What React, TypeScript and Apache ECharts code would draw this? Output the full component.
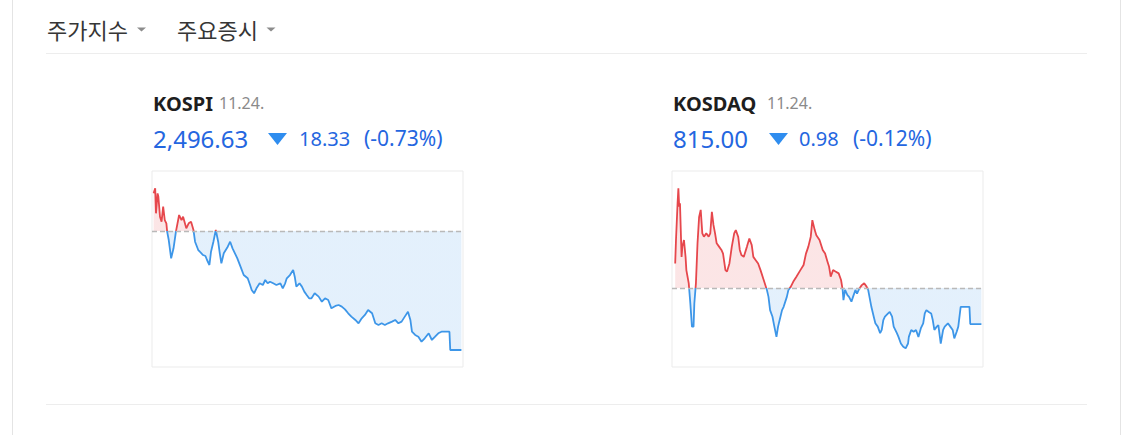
import React, { useEffect, useRef } from "react";
import * as echarts from "echarts";

// ---------- data ----------
const tabLabels = ["주가지수", "주요증시"];
const quoteDate = "11.24.";

const kospiName = "KOSPI";
const kospiPrevClose = 2514.96;
const kospiQuote = ["2,496.63", "18.33", "(-0.73%)"];
const kospiAxisRange = [2494.01, 2524.2];
// [minutes since 09:00, index]
const kospiTicks: [number, number][] = [
  [2, 2520.76], [4, 2521.53], [5, 2517.68], [7, 2520.76], [8, 2520.24], [10, 2517.16], [12, 2516.39], [14, 2518.7],
  [16, 2516.65], [18, 2516.14], [19, 2514.85], [21, 2513.57], [24, 2510.75], [27, 2512.29], [30, 2514.85], [34, 2517.42],
  [37, 2516.65], [39, 2517.16], [43, 2515.37], [46, 2516.14], [49, 2516.39], [52, 2515.11], [54, 2513.31], [58, 2512.03],
  [60, 2511.77], [62, 2511.52], [64, 2511.26], [67, 2511.11], [69, 2510.49], [72, 2509.72], [74, 2511.77], [77, 2513.31],
  [80, 2515.11], [83, 2513.31], [85, 2511.52], [87, 2509.98], [90, 2511.52], [95, 2512.54], [98, 2513.31], [101, 2512.29],
  [104, 2511.52], [107, 2510.75], [111, 2509.46], [115, 2508.18], [120, 2507.67], [123, 2506.64], [125, 2505.87], [128, 2505.36],
  [131, 2506.13], [135, 2506.9], [139, 2506.64], [142, 2507.41], [145, 2506.9], [148, 2507.15], [152, 2506.9], [156, 2506.64],
  [161, 2506.9], [164, 2506.13], [167, 2506.9], [169, 2507.67], [173, 2508.18], [177, 2508.95], [179, 2507.92], [181, 2506.39],
  [185, 2506.9], [188, 2506.39], [191, 2505.62], [194, 2505.1], [197, 2504.59], [200, 2504.59], [204, 2505.36], [209, 2504.85],
  [213, 2504.07], [217, 2504.59], [221, 2504.33], [225, 2503.05], [230, 2503.41], [234, 2503.56], [238, 2503.31], [242, 2502.89],
  [246, 2502.28], [250, 2501.77], [255, 2501.25], [259, 2500.74], [263, 2501.51], [267, 2502.02], [271, 2502.79], [276, 2502.28],
  [280, 2500.74], [284, 2500.48], [288, 2500.74], [292, 2500.48], [296, 2500.74], [301, 2501.0], [305, 2501.25], [309, 2500.74],
  [313, 2501.0], [317, 2501.77], [321, 2502.53], [324, 2501.25], [326, 2499.45], [330, 2498.94], [334, 2498.68], [338, 2497.91],
  [342, 2498.43], [347, 2499.2], [351, 2498.17], [355, 2498.68], [359, 2499.2], [363, 2499.45], [368, 2499.45], [373, 2499.45],
  [374, 2496.63], [388, 2496.63],
];

const kosdaqName = "KOSDAQ";
const kosdaqPrevClose = 815.98;
const kosdaqQuote = ["815.00", "0.98", "(-0.12%)"];
const kosdaqAxisRange = [813.83, 819.17];
const kosdaqTicks: [number, number][] = [
  [4, 816.65], [5, 817.29], [7, 818.29], [8, 818.7], [9, 818.2], [10, 818.29], [12, 816.83], [13, 817.11],
  [15, 817.29], [17, 816.83], [18, 816.47], [21, 816.11], [23, 815.56], [25, 814.93], [27, 814.93], [28, 815.56],
  [30, 816.11], [32, 817.2], [34, 817.92], [36, 818.11], [38, 817.47], [40, 817.38], [43, 817.47], [46, 817.38],
  [48, 817.47], [50, 818.06], [52, 817.7], [54, 817.47], [56, 817.2], [59, 817.11], [62, 817.02], [64, 816.92],
  [67, 816.47], [69, 816.43], [72, 816.65], [75, 817.11], [78, 817.47], [80, 817.56], [83, 817.38], [85, 817.02],
  [87, 816.88], [90, 816.83], [94, 817.11], [97, 817.33], [100, 817.15], [102, 816.83], [105, 816.74], [108, 816.65],
  [111, 816.47], [115, 816.2], [119, 815.93], [121, 815.74], [123, 815.38], [126, 815.2], [128, 814.97], [131, 814.65],
  [133, 814.93], [135, 815.11], [138, 815.38], [140, 815.47], [144, 815.74], [146, 815.93], [149, 816.02], [152, 816.15],
  [156, 816.29], [161, 816.47], [165, 816.61], [168, 816.92], [171, 817.11], [174, 817.38], [176, 817.83], [179, 817.56],
  [181, 817.42], [185, 817.29], [189, 817.02], [192, 816.92], [195, 816.7], [197, 816.56], [199, 816.29], [202, 816.47],
  [205, 816.43], [209, 816.38], [212, 816.2], [214, 815.93], [215, 815.65], [217, 815.93], [220, 815.79], [222, 815.74],
  [225, 815.61], [227, 815.74], [230, 815.93], [232, 815.83], [235, 815.97], [238, 816.06], [241, 816.11], [244, 816.02],
  [246, 815.93], [248, 815.7], [250, 815.47], [253, 815.2], [255, 815.02], [258, 814.93], [261, 814.75], [263, 814.84],
  [265, 815.11], [267, 815.2], [271, 815.29], [273, 815.33], [276, 815.2], [278, 814.93], [280, 814.84], [282, 814.75],
  [284, 814.65], [287, 814.47], [290, 814.38], [293, 814.34], [296, 814.47], [297, 814.65], [300, 814.84], [303, 814.79],
  [306, 814.84], [309, 814.65], [312, 814.88], [315, 815.02], [317, 815.29], [319, 815.38], [322, 815.33], [325, 815.29],
  [327, 815.11], [329, 814.84], [332, 814.93], [334, 814.97], [337, 814.47], [340, 814.84], [342, 814.93], [346, 815.02],
  [349, 814.93], [352, 814.84], [354, 814.61], [357, 814.79], [359, 814.93], [362, 815.47], [373, 815.47], [374, 815.0],
  [388, 815.0],
];

const sessionMinutes = [0, 390];

// ---------- styles ----------
const UP = "#e6474c";
const DOWN = "#3d96e8";
const QUOTE_BLUE = "#2466e0";
const ARROW_BLUE = "#2f8def";
const LATIN = "'Noto Sans', 'Noto Sans CJK KR', sans-serif";
const KOREAN = "'Noto Sans CJK KR', 'Noto Sans', sans-serif";

function txt(text: string, x: number, y: number, size: number, color: string, weight: any = "normal", family = LATIN) {
  return {
    type: "text",
    x,
    y,
    silent: true,
    style: {
      text,
      fill: color,
      fontSize: size,
      fontWeight: weight,
      fontFamily: family,
      align: "left",
      verticalAlign: "middle",
      textAlign: "left",
      textVerticalAlign: "middle",
    },
  };
}

function hline(x1: number, x2: number, y: number, color: string) {
  return { type: "line", silent: true, shape: { x1, y1: y, x2, y2: y }, style: { stroke: color, lineWidth: 1 } };
}
function vline(x: number, y1: number, y2: number, color: string) {
  return { type: "line", silent: true, shape: { x1: x, y1, x2: x, y2 }, style: { stroke: color, lineWidth: 1 } };
}
function tri(points: number[][], color: string) {
  return { type: "polygon", silent: true, shape: { points }, style: { fill: color } };
}

function quoteBlock(left: number, name: string, nameWidth: number, quote: string[], arrowX: number, changeX: number, rateX: number) {
  return [
    txt(name, left, 103, 20, "#1e1e1e", "bold"),
    txt(quoteDate, left + nameWidth, 103, 16, "#8a8a8a"),
    txt(quote[0], left, 138, 24, QUOTE_BLUE),
    tri([[arrowX, 133], [arrowX + 19, 133], [arrowX + 9.5, 145]], ARROW_BLUE),
    txt(quote[1], changeX, 138, 20, QUOTE_BLUE),
    txt(quote[2], rateX, 138, 21, QUOTE_BLUE),
  ];
}

function lineSeries(idx: number, data: [number, number][], prev: number) {
  return {
    type: "line",
    xAxisIndex: idx,
    yAxisIndex: idx,
    data,
    showSymbol: false,
    symbol: "none",
    silent: true,
    lineStyle: { width: 1.8 },
    areaStyle: { opacity: 0.14, origin: prev },
    markLine: {
      silent: true,
      symbol: "none",
      label: { show: false },
      lineStyle: { color: "#b9b9b9", type: [5, 3], width: 1.3 },
      data: [{ yAxis: prev }],
    },
  };
}

function splitPieces(range: number[], prev: number) {
  return [
    { gte: range[0] - 50, lt: prev, color: DOWN },
    { gte: prev, lte: range[1] + 50, color: UP },
  ];
}

export default function App() {
  const ref = useRef<HTMLDivElement>(null);
  useEffect(() => {
    if (!ref.current) return;
    const chart = echarts.init(ref.current, undefined, { renderer: "svg" });
    const grids = [
      { left: 152, top: 171, width: 311, height: 196 },
      { left: 672, top: 171, width: 311, height: 196 },
    ].map((g) => ({ ...g, show: true, borderColor: "#ebebeb", borderWidth: 1, backgroundColor: "transparent" }));

    const xAxis = [0, 1].map((i) => ({
      type: "value",
      gridIndex: i,
      min: sessionMinutes[0],
      max: sessionMinutes[1],
      show: false,
    }));
    const yAxis = [kospiAxisRange, kosdaqAxisRange].map((r, i) => ({
      type: "value",
      gridIndex: i,
      min: r[0],
      max: r[1],
      show: false,
      scale: true,
    }));

    const graphic = [
      vline(12.5, 0, 435, "#e4e4e4"),
      vline(1120.5, 0, 435, "#e4e4e4"),
      hline(46, 1087, 53.5, "#ededed"),
      hline(46, 1087, 404.5, "#ededed"),
      txt(tabLabels[0], 47, 29, 22, "#363636", "normal", KOREAN),
      tri([[137, 27.5], [146, 27.5], [141.5, 31.5]], "#8c8c8c"),
      txt(tabLabels[1], 177, 29, 22, "#363636", "normal", KOREAN),
      tri([[266.5, 27.5], [275.5, 27.5], [271, 31.5]], "#8c8c8c"),
      ...quoteBlock(153, kospiName, 66, kospiQuote, 268, 299, 364),
      ...quoteBlock(673, kosdaqName, 94, kosdaqQuote, 769, 799, 853),
    ];

    chart.setOption({
      animation: false,
      grid: grids,
      xAxis,
      yAxis,
      visualMap: [
        {
          type: "piecewise",
          show: false,
          seriesIndex: 0,
          dimension: 1,
          pieces: splitPieces(kospiAxisRange, kospiPrevClose),
        },
        {
          type: "piecewise",
          show: false,
          seriesIndex: 1,
          dimension: 1,
          pieces: splitPieces(kosdaqAxisRange, kosdaqPrevClose),
        },
      ],
      series: [lineSeries(0, kospiTicks, kospiPrevClose), lineSeries(1, kosdaqTicks, kosdaqPrevClose)],
      graphic: { elements: graphic },
    });
    return () => chart.dispose();
  }, []);
  return (
    <div
      ref={ref}
      style={{ position: "absolute", left: 0, top: 0, width: 1131, height: 435, background: "#ffffff" }}
    />
  );
}
